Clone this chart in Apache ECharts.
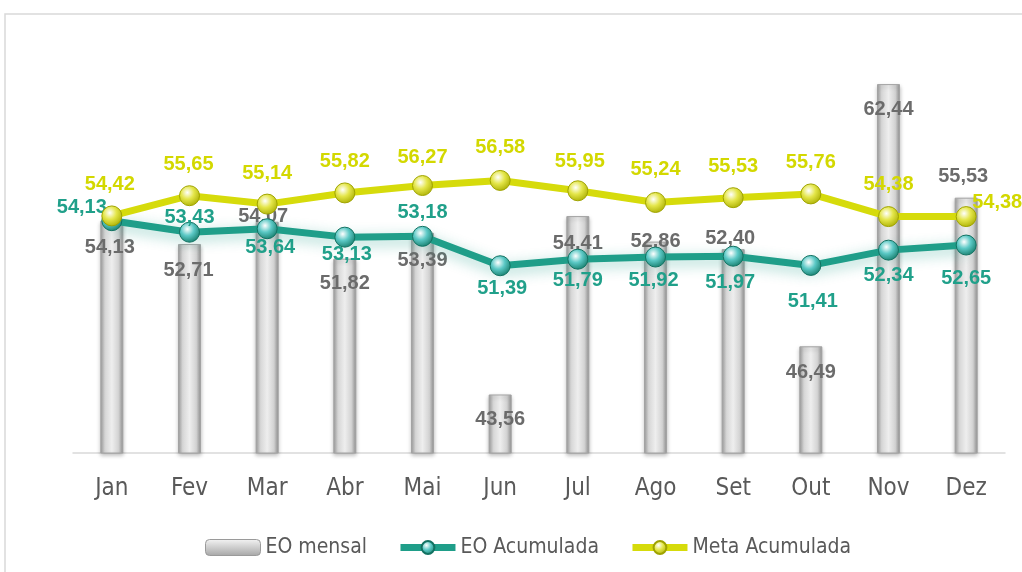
<!DOCTYPE html>
<html>
<head>
<meta charset="utf-8">
<script src="https://cdn.jsdelivr.net/npm/echarts@6/dist/echarts.min.js"></script>
<style>
  html, body { margin: 0; padding: 0; background: #fff; }
  #chart { width: 1022px; height: 572px; }
</style>
</head>
<body>
<div id="chart"></div>
<script>
const months = ['Jan', 'Fev', 'Mar', 'Abr', 'Mai', 'Jun', 'Jul', 'Ago', 'Set', 'Out', 'Nov', 'Dez']
const eoMensal = [54.13, 52.71, 54.07, 51.82, 53.39, 43.56, 54.41, 52.86, 52.40, 46.49, 62.44, 55.53]
const eoAcumulada = [54.13, 53.43, 53.64, 53.13, 53.18, 51.39, 51.79, 51.92, 51.97, 51.41, 52.34, 52.65]
const metaAcumulada = [54.42, 55.65, 55.14, 55.82, 56.27, 56.58, 55.95, 55.24, 55.53, 55.76, 54.38, 54.38]

// label placement (px) for each month, as in the original sheet
const barLabelPos = [[-2, 27], [-1, 26], [-4, -5], [0, 25], [0, 28], [0, 25], [0, 27], [0, 0], [-3, -11], [0, 26], [0, 25], [-3, -21]]
const eoLabelPos = [[-30, -13], [0, -15], [3, 19], [2, 17], [0, -24], [2, 23], [0, 21], [-2, 23], [-3, 26], [2, 36], [0, 25], [0, 33]]
const metaLabelPos = [[-2, -31], [-1, -31], [0, -31], [0, -31], [0, -28], [0, -33], [2, -29], [0, -33], [0, -31], [0, -31], [0, -32], [31, -14]]

const fmt = (v) => v.toFixed(2).replace('.', ',')

const teal = '#1f9e89'
const yellow = '#d6db0b'
const narrow = "'Liberation Sans Narrow', 'DejaVu Sans Condensed', 'Roboto Condensed', Roboto, sans-serif"

const ball = (edge, mid) => ({
  type: 'radial', x: 0.4, y: 0.35, r: 0.7,
  colorStops: [
    { offset: 0, color: '#ffffff' },
    { offset: 0.45, color: mid },
    { offset: 1, color: edge },
  ],
})

const barColor = {
  type: 'linear', x: 0, y: 0, x2: 1, y2: 0,
  colorStops: [
    { offset: 0, color: '#9c9c9c' },
    { offset: 0.2, color: '#d6d6d6' },
    { offset: 0.5, color: '#eeeeee' },
    { offset: 0.8, color: '#d2d2d2' },
    { offset: 1, color: '#929292' },
  ],
}

const chart = echarts.init(document.getElementById('chart'))

const option = {
  animation: false,
  textStyle: { fontFamily: 'Liberation Sans' },
  graphic: [{
    type: 'rect',
    shape: { x: 5, y: 14, width: 1100, height: 700 },
    style: { fill: 'none', stroke: '#d9d9d9', lineWidth: 1.5 },
    silent: true,
  }],
  grid: { left: 73, right: 17, top: 42, bottom: 119 },
  legend: {
    left: 200,
    top: 532,
    itemWidth: 55,
    itemHeight: 16,
    itemGap: 30,
    lineStyle: { width: 7 },
    textStyle: { fontFamily: narrow, fontSize: 21, color: '#595959' },
    data: [
      {
        name: 'EO mensal',
        itemStyle: {
          color: {
            type: 'linear', x: 0, y: 0, x2: 0, y2: 1,
            colorStops: [{ offset: 0, color: '#f4f4f4' }, { offset: 1, color: '#a6a6a6' }],
          },
          borderColor: '#9a9a9a', borderWidth: 1,
        },
      },
      'EO Acumulada',
      'Meta Acumulada',
    ],
  },
  xAxis: {
    type: 'category',
    data: months,
    axisTick: { show: false },
    axisLine: { lineStyle: { color: '#d9d9d9', width: 1.5 } },
    axisLabel: { fontFamily: narrow, fontSize: 24, color: '#595959', margin: 24 },
  },
  yAxis: {
    type: 'value',
    min: 40,
    max: 65,
    show: false,
  },
  series: [
    {
      name: 'EO mensal',
      type: 'bar',
      barWidth: 23,
      itemStyle: {
        color: barColor,
        borderColor: '#a3a3a3',
        borderWidth: 1,
        shadowColor: 'rgba(0,0,0,0.25)',
        shadowBlur: 4,
        shadowOffsetY: 2,
      },
      data: eoMensal.map((v, i) => ({
        value: v,
        label: { offset: barLabelPos[i] },
      })),
      label: {
        show: true,
        position: 'top',
        distance: 0,
        verticalAlign: 'middle',
        align: 'center',
        formatter: (p) => fmt(p.value),
        fontSize: 20,
        fontWeight: 'bold',
        color: '#6b6b6b',
      },
      z: 1,
    },
    {
      name: 'EO Acumulada',
      type: 'line',
      symbol: 'circle',
      symbolSize: 20,
      color: teal,
      lineStyle: {
        color: teal,
        width: 7,
        shadowColor: 'rgba(31,158,137,0.45)',
        shadowBlur: 14,
        shadowOffsetY: 4,
      },
      itemStyle: {
        color: ball('#137a68', '#5cc9c6'),
        borderColor: '#127262',
        borderWidth: 1,
      },
      data: eoAcumulada.map((v, i) => ({
        value: v,
        label: { offset: eoLabelPos[i] },
      })),
      label: {
        show: true,
        position: 'inside',
        formatter: (p) => fmt(p.value),
        fontSize: 20,
        fontWeight: 'bold',
        color: '#20a08a',
      },
      z: 3,
    },
    {
      name: 'Meta Acumulada',
      type: 'line',
      symbol: 'circle',
      symbolSize: 20,
      color: yellow,
      lineStyle: { color: yellow, width: 7 },
      itemStyle: {
        color: ball('#a9ad00', '#e4e64a'),
        borderColor: '#9fa300',
        borderWidth: 1,
      },
      data: metaAcumulada.map((v, i) => ({
        value: v,
        label: { offset: metaLabelPos[i] },
      })),
      label: {
        show: true,
        position: 'inside',
        formatter: (p) => fmt(p.value),
        fontSize: 20,
        fontWeight: 'bold',
        color: '#d3d800',
      },
      z: 4,
    },
  ],
}

chart.setOption(option)
</script>
</body>
</html>
